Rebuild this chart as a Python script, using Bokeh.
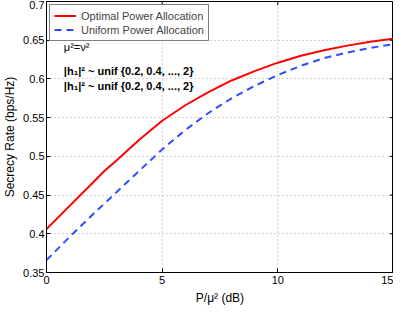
from bokeh.plotting import figure
from bokeh.models import Range1d, Label, Legend, LegendItem, FixedTicker
from bokeh.embed import file_html
from bokeh.resources import INLINE

# data
snr_db = [0, 1, 2, 2.5, 3, 4, 5, 6, 7, 8, 9, 10, 11, 12, 13, 14, 15]
optimal = [0.406, 0.436, 0.466, 0.481, 0.494, 0.521, 0.546, 0.566, 0.583, 0.598,
           0.610, 0.621, 0.630, 0.637, 0.643, 0.648, 0.652]
uniform = [0.366, 0.396, 0.425, 0.439, 0.453, 0.481, 0.509, 0.534, 0.556, 0.575,
           0.591, 0.605, 0.617, 0.627, 0.634, 0.640, 0.645]
x_ticks = [0, 5, 10, 15]
y_ticks = [0.35, 0.4, 0.45, 0.5, 0.55, 0.6, 0.65, 0.7]
y_tick_labels = ["0.35", "0.4", "0.45", "0.5", "0.55", "0.6", "0.65", "0.7"]
series_names = ["Optimal Power Allocation", "Uniform Power Allocation"]
x_title = "P/\u03bc\u00b2 (dB)"
y_title = "Secrecy Rate (bps/Hz)"
annot = ["\u03bc\u00b2=\u03bd\u00b2",
         "|h\u2081|\u00b2 ~ unif {0.2, 0.4, ..., 2}",
         "|h\u2081|\u00b2 ~ unif {0.2, 0.4, ..., 2}"]

FONT = "Liberation Sans"
X0, X1, Y0, Y1 = 0, 15, 0.35, 0.7

p = figure(width=393, height=307, output_backend="svg", toolbar_location=None,
           x_range=Range1d(X0, X1), y_range=Range1d(Y0, Y1),
           min_border_left=0, min_border_right=0, min_border_top=1, min_border_bottom=0)
p.outline_line_color = "black"
p.outline_line_width = 1
p.background_fill_color = "white"
p.border_fill_color = "white"

p.grid.grid_line_color = "#a8a8a8"
p.grid.grid_line_dash = "1 3"
p.grid.grid_line_width = 1
p.xgrid.ticker = FixedTicker(ticks=x_ticks)
p.ygrid.ticker = FixedTicker(ticks=y_ticks)

r1 = p.line(snr_db, optimal, line_color="#ff0000", line_width=2)
r2 = p.line(snr_db, uniform, line_color="#2f4dff", line_width=2, line_dash="7 5")

# inward ticks on top and right edges
tx = (X1 - X0) * 4 / 355
ty = (Y1 - Y0) * 4 / 280
p.segment(x0=x_ticks, y0=[Y1] * len(x_ticks), x1=x_ticks, y1=[Y1 - ty] * len(x_ticks),
          line_color="black", line_width=1)
p.segment(x0=[X1] * len(y_ticks), y0=y_ticks, x1=[X1 - tx] * len(y_ticks), y1=y_ticks,
          line_color="black", line_width=1)

for ax in p.xaxis:
    ax.ticker = FixedTicker(ticks=x_ticks)
for ax in p.yaxis:
    ax.ticker = FixedTicker(ticks=y_ticks)
    ax.major_label_overrides = {t: l for t, l in zip(y_ticks, y_tick_labels)}

for ax in list(p.xaxis) + list(p.yaxis):
    ax.major_tick_in = 4
    ax.major_tick_out = 0
    ax.minor_tick_in = 0
    ax.minor_tick_out = 0
    ax.axis_line_color = "black"
    ax.major_label_text_font = FONT
    ax.major_label_text_font_size = "11px"
    ax.major_label_text_color = "black"
    ax.major_label_text_line_height = 1.0
    ax.axis_label_text_font = FONT
    ax.axis_label_text_font_size = "12px"
    ax.axis_label_text_font_style = "normal"
    ax.axis_label_text_color = "black"
    ax.axis_label_text_line_height = 1.0

p.xaxis.axis_label = x_title
p.yaxis.axis_label = y_title
p.xaxis.major_label_standoff = 3
p.yaxis.major_label_standoff = 2
p.xaxis.axis_label_standoff = 4
p.yaxis.axis_label_standoff = 3

legend = Legend(items=[LegendItem(label=series_names[0], renderers=[r1]),
                       LegendItem(label=series_names[1], renderers=[r2])],
                location="top_left")
legend.label_text_font = FONT
legend.label_text_font_size = "11px"
legend.label_height = 13
legend.glyph_height = 13
legend.glyph_width = 22
legend.spacing = 1
legend.padding = 4
legend.margin = 3
legend.label_standoff = 5
legend.border_line_color = "black"
legend.border_line_width = 1
legend.background_fill_alpha = 1
p.add_layout(legend)

p.add_layout(Label(x=0.75, y=0.634, text=annot[0], text_font=FONT, text_font_size="11px",
                   text_color="black"))
p.add_layout(Label(x=0.75, y=0.603, text=annot[1], text_font=FONT, text_font_size="11px",
                   text_font_style="bold", text_color="black"))
p.add_layout(Label(x=0.75, y=0.583, text=annot[2], text_font=FONT, text_font_size="11px",
                   text_font_style="bold", text_color="black"))

open("out.html", "w").write(file_html(p, INLINE))
